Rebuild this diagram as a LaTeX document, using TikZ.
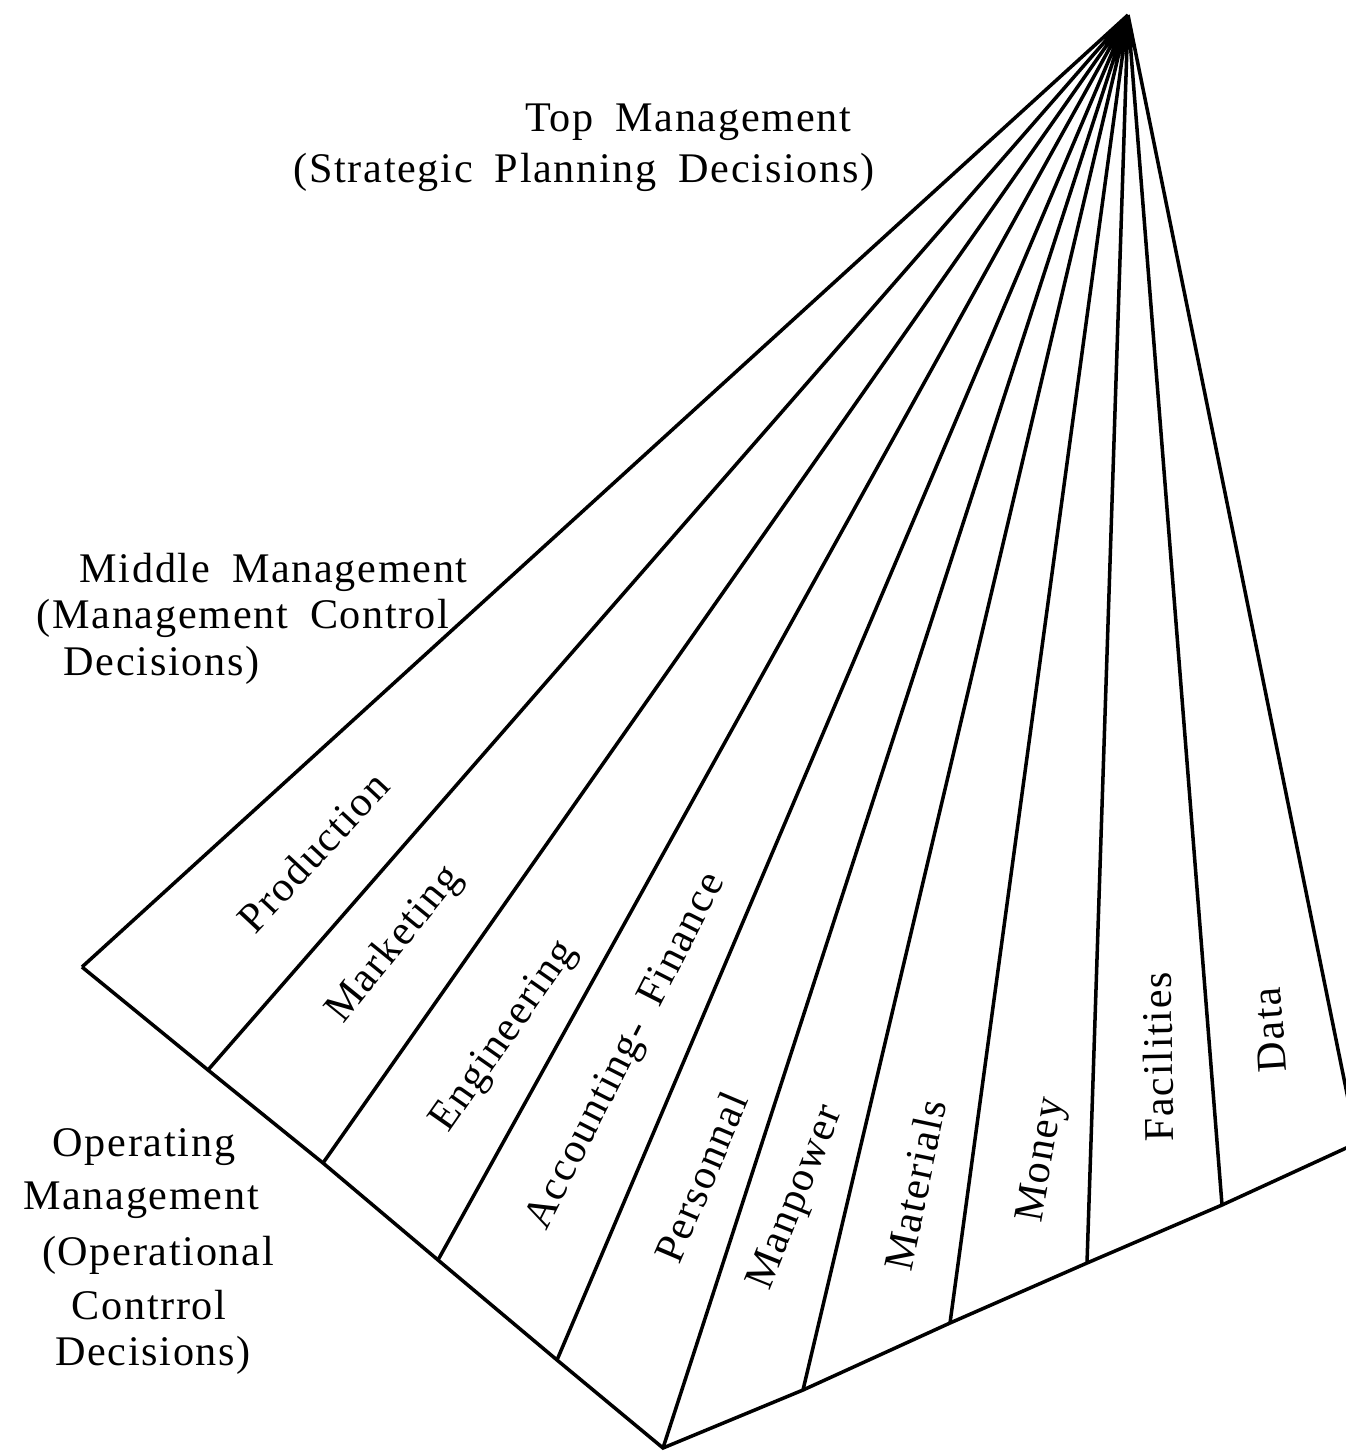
\documentclass[tikz,border=0pt]{standalone}
\usepackage{fontspec}
\setmainfont{Liberation Serif}[LetterSpace=4,WordSpace=1.8]
\usepackage{tikz}

\begin{document}
\begin{tikzpicture}[x=0.01cm, y=-0.01cm, line width=1pt, every node/.style={inner sep=0pt, font=\fontsize{12}{14}\selectfont}, lab/.style={anchor=west}]
  \clip (0,0) rectangle (1346,1455);
  \coordinate (apex) at (1128,15);
  \coordinate (L) at (82,967);
  \coordinate (b1) at (208,1070);
  \coordinate (b2) at (323,1163);
  \coordinate (b3) at (438,1260);
  \coordinate (b4) at (557,1360);
  \coordinate (B) at (663,1448);
  \coordinate (b5) at (803,1390);
  \coordinate (b6) at (950,1323);
  \coordinate (b7) at (1087,1263);
  \coordinate (b8) at (1222,1205);
  \coordinate (R) at (1357,1143);

  \draw (L) -- (b1) -- (b2) -- (b3) -- (b4) -- (B) -- (b5) -- (b6) -- (b7) -- (b8) -- (R);
  \draw (apex) -- (L) (apex) -- (b1) (apex) -- (b2) (apex) -- (b3) (apex) -- (b4) (apex) -- (B)
        (apex) -- (b5) (apex) -- (b6) (apex) -- (b7) (apex) -- (b8) (apex) -- (R);

  \node (top1) at (688,122) {Top Management};
  \node (top2) at (584,172) {(Strategic Planning Decisions)};

  \node[lab] (mid1) at (78,572) {Middle Management};
  \node[lab] (mid2) at (35,618) {(Management Control};
  \node[lab] (mid3) at (62,665) {Decisions)};

  \node (op1) at (144,1147) {Operating};
  \node (op2) at (141,1200) {Management};
  \node (op3) at (158,1255) {(Operational};
  \node (op4) at (149,1305) {Contrrol};
  \node (op5) at (153,1355) {Decisions)};

  \node[rotate=47] (prod) at (313,852) {Production};
  \node[rotate=51] (mark) at (395,945) {Marketing};
  \node[rotate=55] (eng) at (505,1037) {Engineering};
  \node[rotate=63] (acc) at (627,1052) {Accounting- Finance};
  \node[rotate=67] (pers) at (701,1177) {Personnal};
  \node[rotate=68] (manp) at (797,1198) {Manpower};
  \node[rotate=78] (mat) at (915,1185) {Materials};
  \node[rotate=80] (mon) at (1043,1160) {Money};
  \node[rotate=91] (fac) at (1158,1057) {Facilities};
  \node[rotate=94] (data) at (1270,1030) {Data};
\end{tikzpicture}
\end{document}
